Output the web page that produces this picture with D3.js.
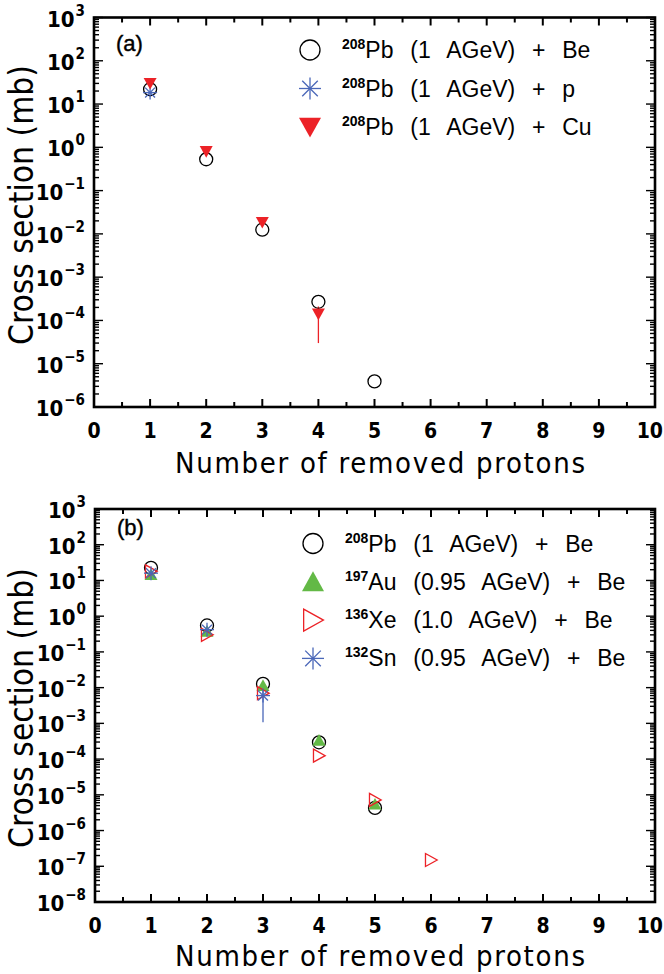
<!DOCTYPE html>
<html>
<head>
<meta charset="utf-8">
<script src="https://cdn.jsdelivr.net/npm/d3@7"></script>
<style>
  body { margin: 0; background: #fff; }
  svg { display: block; }
</style>
</head>
<body>
<svg width="664" height="974"></svg>
<script>
// data
var xTicks = [0,1,2,3,4,5,6,7,8,9,10];

// panel (a)
var pbBeX = [1,2,3,4,5];
var pbBe  = [22, 0.53, 0.0125, 2.7e-4, 3.9e-6];
var pbPX  = [1];
var pbP   = [18.4];
var pbCuX = [1,2,3,4];
var pbCu  = [30, 0.8, 0.0184, 1.41e-4];
var pbCuErrLo = [30, 0.8, 0.0184, 3.0e-5];
var pbCuErrHi = [30, 0.8, 0.0184, 2.1e-4];

// panel (b)
var pbBeB  = [22.5, 0.55, 0.0127, 2.95e-4, 4.3e-6];
var auBeX  = [1,2,3,4,5];
var auBe   = [14.6, 0.38, 0.0115, 3.4e-4, 5.5e-6];
var xeBeX  = [1,2,3,4,5,6];
var xeBe   = [18, 0.3, 0.007, 1.25e-4, 7.2e-6, 1.5e-7];
var snBeX  = [1,2,3];
var snBe   = [16, 0.42, 0.006];
var snBeErrLo = [16, 0.42, 0.00107];
var snBeErrHi = [16, 0.42, 0.011];

var legendA = [["208","Pb  (1  AGeV)  +  Be"], ["208","Pb  (1  AGeV)  +  p"], ["208","Pb  (1  AGeV)  +  Cu"]];
var legendB = [["208","Pb  (1  AGeV)  +  Be"], ["197","Au  (0.95  AGeV)  +  Be"], ["136","Xe  (1.0  AGeV)  +  Be"], ["132","Sn  (0.95  AGeV)  +  Be"]];

var RED = "#ec2227", BLUE = "#4a67b8", GREEN = "#63b946";
var tickFont = "'DejaVu Sans Condensed', 'DejaVu Sans', sans-serif";
var legFont = "'Liberation Sans', Arial, sans-serif";

var svg = d3.select("svg");

function zip(xs, ys) {
    var out = [];
    for (var i = 0; i < ys.length; i++) out.push([xs[i], ys[i]]);
    return out;
}

function sup(n) {
    return String(n).replace("-", "\u2212");
}

// marker painters: draw at (0,0), caller translates
function circleMark(g, r) {
    g.append("circle").attr("r", r).attr("fill", "none").attr("stroke", "#000").attr("stroke-width", 1.3);
}
function starMark(g, s) {
    for (var a = 0; a < 180; a += 45) {
        var rad = a * Math.PI / 180;
        g.append("line")
            .attr("x1", -s * Math.cos(rad)).attr("y1", -s * Math.sin(rad))
            .attr("x2", s * Math.cos(rad)).attr("y2", s * Math.sin(rad))
            .attr("stroke", BLUE).attr("stroke-width", 1.3);
    }
}
function triDown(g, s) {
    g.append("path").attr("d", "M" + (-s) + "," + (-s * 0.85) + "L" + s + "," + (-s * 0.85) + "L0," + (s * 0.95) + "Z")
        .attr("fill", RED);
}
function triUp(g, s) {
    g.append("path").attr("d", "M" + (-s) + "," + (s * 0.85) + "L" + s + "," + (s * 0.85) + "L0," + (-s * 0.95) + "Z")
        .attr("fill", GREEN);
}
function triRight(g, s) {
    g.append("path").attr("d", "M" + (-s * 0.85) + "," + (-s) + "L" + (s * 0.95) + ",0L" + (-s * 0.85) + "," + s + "Z")
        .attr("fill", "none").attr("stroke", RED).attr("stroke-width", 1.3);
}

function drawPanel(cfg) {
    var x = d3.scaleLinear().domain([0, 10]).range([cfg.left, cfg.right]);
    var y = d3.scaleLog().domain([cfg.ymin, cfg.ymax]).range([cfg.bottom, cfg.top]);
    var g = svg.append("g");

    // ticks (inside, on all four sides)
    var tk = g.append("g").attr("stroke", "#000").attr("stroke-width", 2);
    for (var i = 0; i <= 20; i++) {
        var v = i / 2, len = (i % 2 === 0) ? 8 : 5;
        tk.append("line").attr("x1", x(v)).attr("x2", x(v)).attr("y1", cfg.bottom).attr("y2", cfg.bottom - len);
        tk.append("line").attr("x1", x(v)).attr("x2", x(v)).attr("y1", cfg.top).attr("y2", cfg.top + len);
    }
    var e0 = Math.round(Math.log10(cfg.ymin)), e1 = Math.round(Math.log10(cfg.ymax));
    for (var e = e0; e <= e1; e++) {
        for (var m = 1; m <= 9; m++) {
            var val = m * Math.pow(10, e);
            if (val > cfg.ymax * 1.0001) break;
            var l = (m === 1) ? 9 : 5;
            tk.append("line").attr("x1", cfg.left).attr("x2", cfg.left + l).attr("y1", y(val)).attr("y2", y(val)).attr("stroke-width", 1.4);
            tk.append("line").attr("x1", cfg.right).attr("x2", cfg.right - l).attr("y1", y(val)).attr("y2", y(val)).attr("stroke-width", 1.4);
        }
    }

    // frame
    g.append("rect")
        .attr("x", cfg.left).attr("y", cfg.top)
        .attr("width", cfg.right - cfg.left).attr("height", cfg.bottom - cfg.top)
        .attr("fill", "none").attr("stroke", "#000").attr("stroke-width", 2.6);

    // x tick labels
    g.append("g").selectAll("text").data(xTicks).enter().append("text")
        .attr("x", function(d) { return d === 10 ? 663 : x(d); })
        .attr("y", cfg.bottom + 31)
        .attr("text-anchor", function(d) { return d === 10 ? "end" : "middle"; })
        .attr("font-family", tickFont).attr("font-weight", "bold").attr("font-size", "21px")
        .text(function(d) { return d; });

    // y tick labels
    var yt = d3.range(e0, e1 + 1);
    var lab = g.append("g").selectAll("text").data(yt).enter().append("text")
        .attr("x", cfg.left - 9)
        .attr("y", function(d) { return y(Math.pow(10, d)) + 9; })
        .attr("text-anchor", "end")
        .attr("font-family", tickFont).attr("font-weight", "bold").attr("font-size", "22px");
    lab.append("tspan").text("10");
    lab.append("tspan").attr("dy", -11).attr("font-size", "15px").attr("dx", 1)
        .text(function(d) { return sup(d); });

    // axis titles
    g.append("text")
        .attr("x", 175).attr("y", cfg.bottom + cfg.xtitleDy)
        .attr("font-family", tickFont).attr("font-size", "29px")
        .attr("textLength", 410).attr("lengthAdjust", "spacing")
        .text("Number of removed protons");
    g.append("text")
        .attr("transform", "translate(33," + cfg.ytitleY + ") rotate(-90)")
        .attr("text-anchor", "middle")
        .attr("font-family", tickFont).attr("font-size", "34px")
        .attr("textLength", 280).attr("lengthAdjust", "spacingAndGlyphs")
        .text("Cross section (mb)");

    // panel tag
    g.append("text")
        .attr("x", cfg.left + 22).attr("y", cfg.top + cfg.tagDy)
        .attr("font-family", legFont).attr("font-size", "22px")
        .attr("stroke", "#000").attr("stroke-width", 0.4)
        .text(cfg.tag);

    // error bars
    cfg.errors.forEach(function(eb) {
        g.append("g").selectAll("line").data(eb.x).enter().append("line")
            .attr("x1", function(d) { return x(d); })
            .attr("x2", function(d) { return x(d); })
            .attr("y1", function(d, i) { return y(eb.lo[i]); })
            .attr("y2", function(d, i) { return y(eb.hi[i]); })
            .attr("stroke", eb.color).attr("stroke-width", 1.3);
    });

    // data markers
    cfg.series.forEach(function(s) {
        var pts = zip(s.x, s.y);
        pts.forEach(function(p) {
            var mg = g.append("g").attr("transform", "translate(" + x(p[0]) + "," + y(p[1]) + ")");
            s.mark(mg, s.size);
        });
    });

    // legend
    var lg = g.append("g");
    cfg.legend.forEach(function(item, i) {
        var ly = cfg.legTop + i * cfg.legStep;
        var mg = lg.append("g").attr("transform", "translate(" + cfg.legX + "," + ly + ")");
        cfg.series[i].mark(mg, cfg.series[i].legSize);
        var t = lg.append("text")
            .attr("x", cfg.legX + 32).attr("y", ly + 8)
            .attr("font-family", legFont).attr("font-size", "23px")
            .attr("word-spacing", "2px")
            .style("white-space", "pre");
        t.append("tspan").attr("font-size", "14px").attr("font-weight", "bold").attr("dy", -9).text(item[0]);
        t.append("tspan").attr("dy", 9).text(item[1]);
    });
}

drawPanel({
    left: 94, right: 655, top: 17.5, bottom: 407,
    ymin: 1e-6, ymax: 1e3,
    tag: "(a)", tagDy: 33, ytitleY: 205, xtitleDy: 66,
    legX: 310, legTop: 50, legStep: 38.5,
    legend: legendA,
    errors: [{x: pbCuX, lo: pbCuErrLo, hi: pbCuErrHi, color: RED}],
    series: [
        {x: pbBeX, y: pbBe, mark: circleMark, size: 6.5, legSize: 10},
        {x: pbPX,  y: pbP,  mark: starMark,  size: 7,   legSize: 11},
        {x: pbCuX, y: pbCu, mark: triDown,   size: 6.5, legSize: 11}
    ]
});

drawPanel({
    left: 95, right: 655, top: 509, bottom: 902,
    ymin: 1e-8, ymax: 1e3,
    tag: "(b)", tagDy: 26, ytitleY: 708, xtitleDy: 64,
    legX: 313, legTop: 543.5, legStep: 38.3,
    legend: legendB,
    errors: [{x: snBeX, lo: snBeErrLo, hi: snBeErrHi, color: BLUE}],
    series: [
        {x: pbBeX, y: pbBeB, mark: circleMark, size: 6.5, legSize: 10},
        {x: auBeX, y: auBe,  mark: triUp,      size: 6.5, legSize: 11},
        {x: xeBeX, y: xeBe,  mark: triRight,   size: 6.5, legSize: 11},
        {x: snBeX, y: snBe,  mark: starMark,   size: 7,   legSize: 11}
    ]
});
</script>
</body>
</html>
